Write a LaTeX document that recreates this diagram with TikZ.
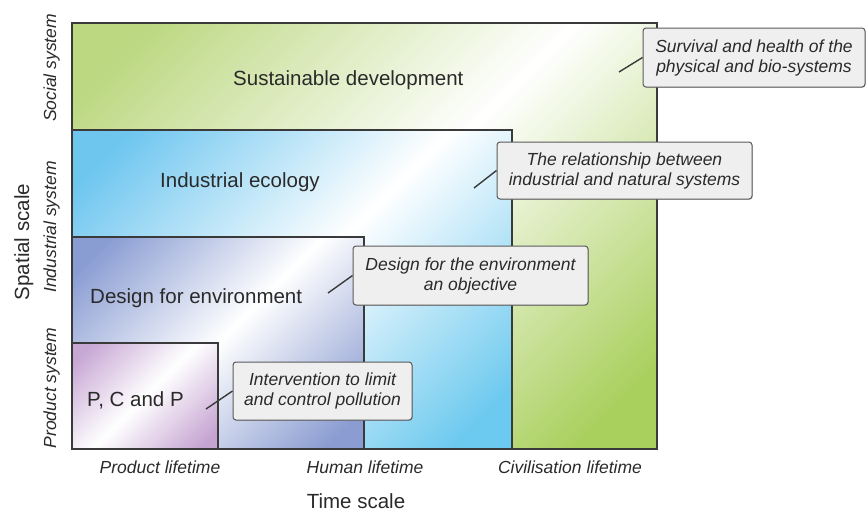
\documentclass[tikz,border=0pt]{standalone}
\usepackage{fontspec}
\setmainfont{Liberation Sans}
\usetikzlibrary{shadows}
\definecolor{grT}{HTML}{BCD881}
\definecolor{grB}{HTML}{A9CF5C}
\definecolor{blT}{HTML}{6EC6EF}
\definecolor{blB}{HTML}{6CC9EF}
\definecolor{puT}{HTML}{8A9DD3}
\definecolor{puB}{HTML}{8A9CD1}
\definecolor{mvT}{HTML}{C7A7D4}
\definecolor{mvB}{HTML}{C6A4D2}
\definecolor{ln}{HTML}{3A3A3A}
\definecolor{tx}{HTML}{2A2A2A}
\definecolor{cf}{HTML}{EFEFEF}
\definecolor{cb}{HTML}{5A5A5A}
\pgfdeclareverticalshading{gsh}{100bp}{color(0bp)=(grB); color(20bp)=(grB); color(50bp)=(white); color(80bp)=(grT); color(100bp)=(grT)}
\pgfdeclareverticalshading{bsh}{100bp}{color(0bp)=(blB); color(20bp)=(blB); color(50bp)=(white); color(80bp)=(blT); color(100bp)=(blT)}
\pgfdeclareverticalshading{psh}{100bp}{color(0bp)=(puB); color(20bp)=(puB); color(50bp)=(white); color(80bp)=(puT); color(100bp)=(puT)}
\pgfdeclareverticalshading{msh}{100bp}{color(0bp)=(mvB); color(20bp)=(mvB); color(50bp)=(white); color(80bp)=(mvT); color(100bp)=(mvT)}
\begin{document}
\begin{tikzpicture}[x=1pt,y=-1pt,
  region/.style={draw=ln, line width=1.2pt},
  biglabel/.style={anchor=base west, text=tx, font=\fontsize{20.5}{24}\selectfont, inner sep=0pt},
  callout/.style={draw=cb, fill=cf, line width=1pt, rounded corners=3pt, align=center, text=tx,
    font=\fontsize{17.5}{20}\selectfont\itshape, inner sep=0pt,
    drop shadow={shadow xshift=0.8pt, shadow yshift=-0.8pt, opacity=0.35}},
  leader/.style={draw=ln, line width=1.4pt},
  axistitle/.style={anchor=base, text=tx, font=\fontsize{20.5}{24}\selectfont, inner sep=0pt},
  axistick/.style={anchor=base, text=tx, font=\fontsize{17.5}{20}\selectfont\itshape, inner sep=0pt}]
\useasboundingbox (0,0) rectangle (867,512);
% shaded regions
\shade[shading=gsh, shading angle=45] (72,23) rectangle (657,449);
\shade[shading=bsh, shading angle=45] (72,130) rectangle (512,449);
\shade[shading=psh, shading angle=45] (72,237) rectangle (364,449);
\shade[shading=msh, shading angle=45] (72,343) rectangle (218,449);
\draw[region] (72,23) rectangle (657,449);
\draw[region] (72,130) rectangle (512,449);
\draw[region] (72,237) rectangle (364,449);
\draw[region] (72,343) rectangle (218,449);
% region labels
\node[biglabel] (sd) at (233,85) {Sustainable development};
\node[biglabel] (ie) at (160,187) {Industrial ecology};
\node[biglabel] (dfe) at (90,303) {Design for environment};
\node[biglabel] (pcp) at (87,406) {P, C and P};
% callouts
\node[callout, minimum width=222pt, minimum height=59pt] (c1) at (754,57.5) {Survival and health of the\\physical and bio-systems};
\node[callout, minimum width=255pt, minimum height=57pt] (c2) at (624.5,170.5) {The relationship between\\industrial and natural systems};
\node[callout, minimum width=235pt, minimum height=59pt] (c3) at (470.5,275.5) {Design for the environment\\an objective};
\node[callout, minimum width=179pt, minimum height=58pt] (c4) at (322.5,391) {Intervention to limit\\and control pollution};
\coordinate (l1) at (619,72);
\coordinate (l2) at (474,188);
\coordinate (l3) at (328,293);
\coordinate (l4) at (206,409);
\draw[leader] (l1) -- (c1.west);
\draw[leader] (l2) -- (c2.west);
\draw[leader] (l3) -- (c3.west);
\draw[leader] (l4) -- (c4.west);
% axes
\node[axistitle, rotate=90] (ys) at (29,242) {Spatial scale};
\node[axistick, rotate=90] (y1) at (56,68) {Social system};
\node[axistick, rotate=90] (y2) at (56,227) {Industrial system};
\node[axistick, rotate=90] (y3) at (56,388) {Product system};
\node[axistick] (x1) at (160,473) {Product lifetime};
\node[axistick] (x2) at (365,473) {Human lifetime};
\node[axistick] (x3) at (570,473) {Civilisation lifetime};
\node[axistitle] (xs) at (356,508) {Time scale};
\end{tikzpicture}
\end{document}
